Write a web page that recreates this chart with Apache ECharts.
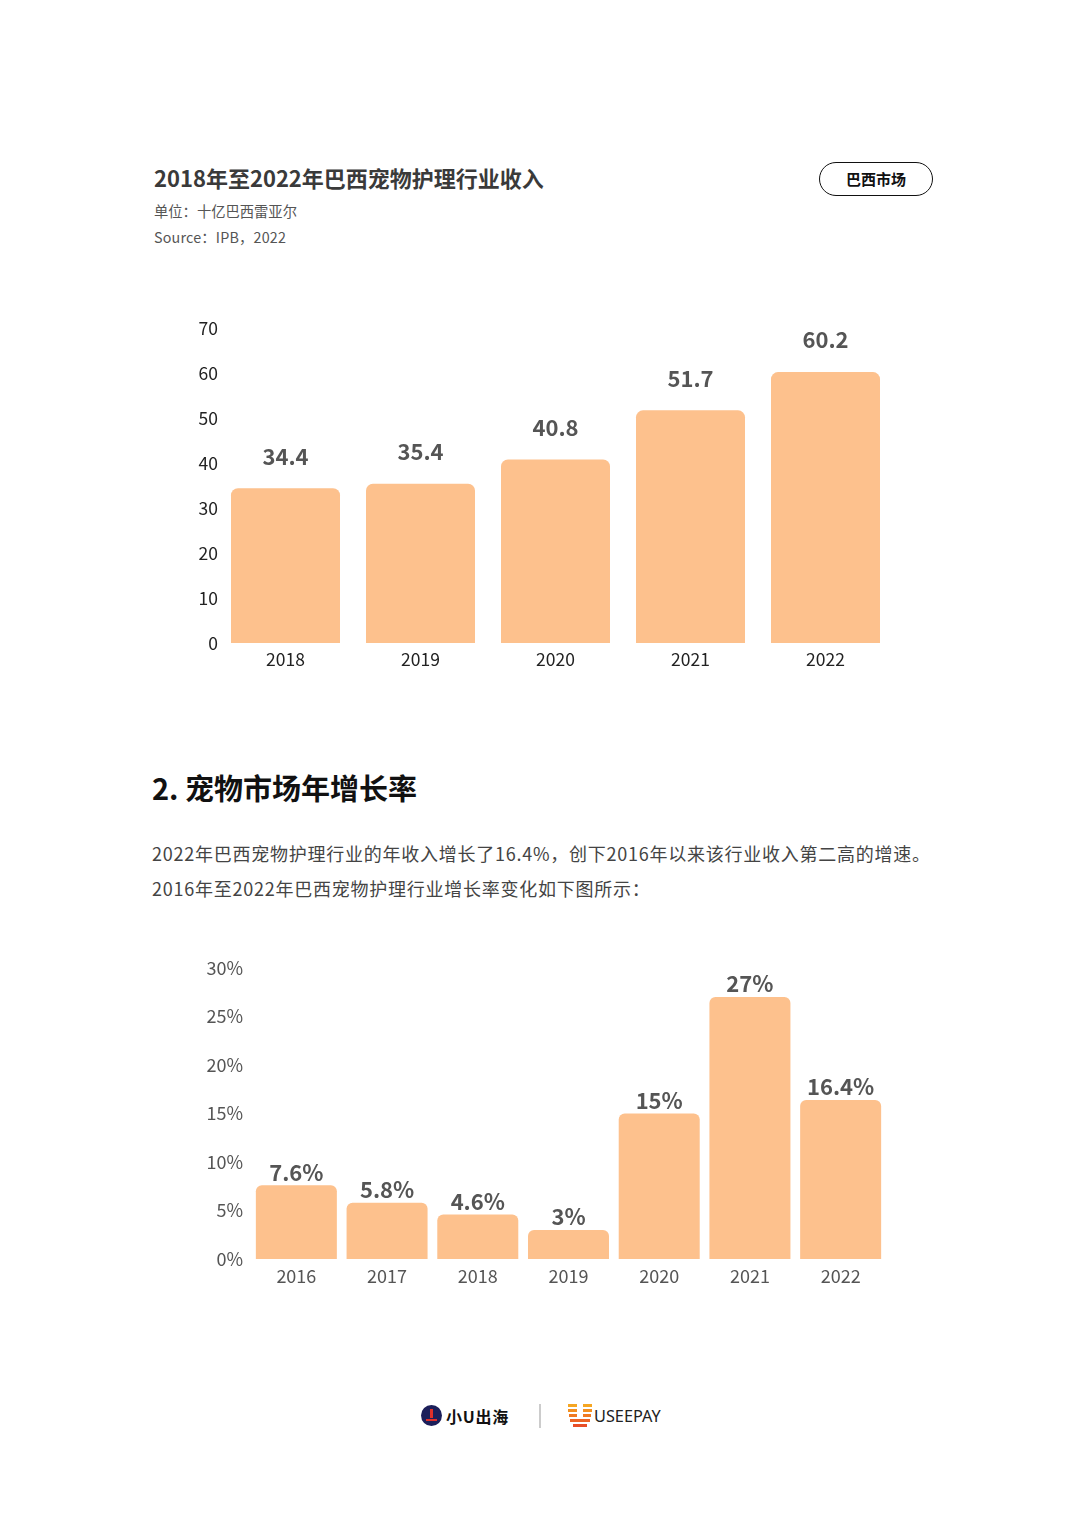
<!DOCTYPE html>
<html><head><meta charset="utf-8">
<script src="https://cdn.jsdelivr.net/npm/echarts@6/dist/echarts.min.js"></script>
<style>
html,body{margin:0;padding:0;background:#fff;width:1080px;height:1529px;overflow:hidden;font-family:"Noto Sans CJK SC","Noto Sans",sans-serif;}
.abs{position:absolute;white-space:nowrap;}
#c1{position:absolute;left:0;top:300px;width:1080px;height:400px;}
#c2{position:absolute;left:0;top:940px;width:1080px;height:360px;}
</style></head><body>
<div class="abs" style="left:154px;top:161px;font-size:22px;font-weight:bold;color:#3a3a3a;">2018年至2022年巴西宠物护理行业收入</div>
<div class="abs" style="left:154px;top:200px;font-size:14.3px;color:#555;">单位：十亿巴西雷亚尔</div>
<div class="abs" style="left:154px;top:226px;font-size:14.3px;color:#555;letter-spacing:0.2px;">Source：IPB，2022</div>
<div class="abs" style="left:819px;top:162px;width:112px;height:32px;border:1.6px solid #111;border-radius:17px;text-align:center;line-height:32px;font-size:15px;font-weight:bold;color:#111;">巴西市场</div>

<div class="abs" style="left:152px;top:766px;font-size:29px;font-weight:bold;color:#111;">2. 宠物市场年增长率</div>
<div class="abs" style="left:152px;top:840px;font-size:18px;color:#444;letter-spacing:0.75px;">2022年巴西宠物护理行业的年收入增长了16.4%，创下2016年以来该行业收入第二高的增速。</div>
<div class="abs" style="left:152px;top:875px;font-size:18px;color:#444;letter-spacing:0.75px;">2016年至2022年巴西宠物护理行业增长率变化如下图所示：</div>

<div id="c1"></div>
<div id="c2"></div>

<!-- footer logos -->
<div class="abs" style="left:421px;top:1405px;width:21px;height:21px;border-radius:50%;background:#1c1f5a;"></div>
<div class="abs" style="left:426px;top:1411px;width:11px;height:8px;border-bottom:2px solid #e0302a;"></div>
<div class="abs" style="left:430px;top:1409px;width:3px;height:9px;background:#e0302a;"></div>
<div class="abs" style="left:446px;top:1404px;font-size:16px;font-weight:bold;color:#111;letter-spacing:0.8px;">小U出海</div>
<div class="abs" style="left:539px;top:1404px;width:1.5px;height:24px;background:#ccc;"></div>
<svg class="abs" style="left:568px;top:1404px;" width="24" height="26" viewBox="0 0 24 26">
<rect x="0" y="0" width="9" height="3" fill="#f5a623"/>
<rect x="15" y="0" width="9" height="3" fill="#f5a623"/>
<rect x="0" y="5" width="9" height="3" fill="#f39020"/>
<rect x="15" y="5" width="9" height="3" fill="#f39020"/>
<rect x="1" y="10" width="8" height="3" fill="#f07a22"/>
<rect x="15" y="10" width="8" height="3" fill="#f07a22"/>
<rect x="2" y="15" width="20" height="3" fill="#ec6424"/>
<rect x="5" y="20" width="14" height="3" fill="#e84e27"/>
</svg>
<div class="abs" style="left:594px;top:1405px;font-size:16.3px;color:#222;font-family:'Noto Sans',sans-serif;">USEEPAY</div>

<script>
const revYears = ['2018','2019','2020','2021','2022'];
const revValues = [34.4, 35.4, 40.8, 51.7, 60.2];
const revTicks = [0,10,20,30,40,50,60,70];

const grYears = ['2016','2017','2018','2019','2020','2021','2022'];
const grValues = [7.6, 5.8, 4.6, 3, 15, 27, 16.4];
const grTicks = [0,5,10,15,20,25,30];

const barColor = '#FDC18D';
const font = '"Noto Sans CJK SC","Noto Sans",sans-serif';

const c1 = echarts.init(document.getElementById('c1'));
c1.setOption({
  animation:false,
  grid:{left:218,right:187,top:28,height:315},
  xAxis:{type:'category',data:revYears,axisLine:{show:false},axisTick:{show:false},
    axisLabel:{color:'#222',fontSize:17.5,margin:8,fontFamily:font}},
  yAxis:{type:'value',min:revTicks[0],max:revTicks[revTicks.length-1],interval:10,splitLine:{show:false},
    axisLine:{show:false},axisTick:{show:false},
    axisLabel:{color:'#222',fontSize:17.5,margin:0,fontFamily:font}},
  series:[{type:'bar',data:revValues,barWidth:109,itemStyle:{color:barColor,borderRadius:[7,7,0,0]},
    label:{show:true,position:'top',distance:21,color:'#555',fontSize:22,fontWeight:'bold',fontFamily:font}}]
});

const c2 = echarts.init(document.getElementById('c2'));
c2.setOption({
  animation:false,
  grid:{left:251,right:194,top:28,height:291},
  xAxis:{type:'category',data:grYears,axisLine:{show:false},axisTick:{show:false},
    axisLabel:{color:'#555',fontSize:18,margin:8,fontFamily:font}},
  yAxis:{type:'value',min:grTicks[0],max:grTicks[grTicks.length-1],interval:5,splitLine:{show:false},
    axisLine:{show:false},axisTick:{show:false},
    axisLabel:{color:'#555',fontSize:18,margin:8,formatter:'{value}%',fontFamily:font}},
  series:[{type:'bar',data:grValues,barWidth:81,itemStyle:{color:barColor,borderRadius:[6,6,0,0]},
    label:{show:true,position:'top',distance:2,color:'#555',fontSize:22,fontWeight:'bold',formatter:'{c}%',fontFamily:font}}]
});
</script>
</body></html>
